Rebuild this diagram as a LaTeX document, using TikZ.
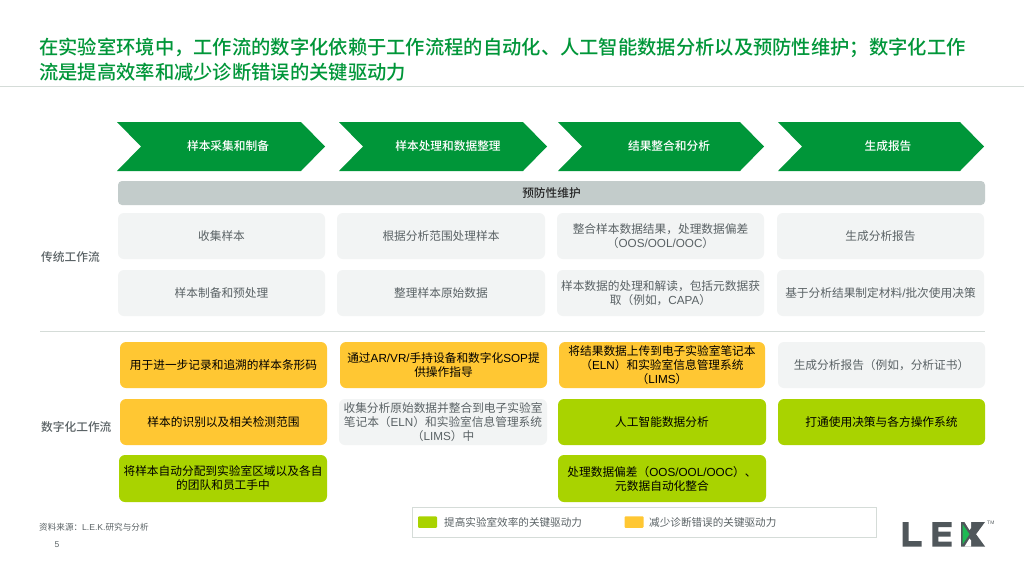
\documentclass[tikz,border=0pt]{standalone}
\usepackage{fontspec}
\setmainfont{Noto Sans CJK SC}
\newfontfamily\medf{Noto Sans CJK SC Medium}
\newfontfamily\latinf{Liberation Sans}
\newcommand{\ltn}[1]{{\latinf #1}}
\definecolor{lekgreen}{HTML}{009639}
\definecolor{lime}{HTML}{A9D300}
\definecolor{amber}{HTML}{FFC733}
\definecolor{pale}{HTML}{F2F4F4}
\definecolor{barg}{HTML}{C3CCCB}
\definecolor{txtg}{HTML}{5A6265}
\definecolor{rulec}{HTML}{D5DCD8}
\definecolor{logog}{HTML}{50575B}
\definecolor{logoa}{HTML}{1DB954}
\tikzset{x=1pt,y=-1pt,
 box/.style={rounded corners=6pt,anchor=center,align=center,font=\fontsize{11.7}{14}\selectfont,inner sep=0pt},
 graybox/.style={box,fill=pale,text=txtg},
 ambox/.style={box,fill=amber,text=black},
 limebox/.style={box,fill=lime,text=black},
 chev/.style={fill=lekgreen,draw=none},
 chevtxt/.style={text=white,font=\fontsize{11.7}{14}\selectfont\medf},
 side/.style={text=txtg,font=\fontsize{11.7}{14}\selectfont\medf,anchor=west,inner sep=0pt},
 rulel/.style={draw=rulec,line width=0.8pt},
 logol/.style={fill=logog,draw=none}}
\newcommand{\bx}[7]{\node[#1,minimum width=#5 pt - #3 pt,minimum height=#6 pt - #4 pt] (#2) at ({(#3+#5)/2},{(#4+#6)/2}) {#7};}
\newcommand{\chv}[5]{\fill[chev] (#2,122) -- (#3-24,122) -- (#3,146.5) -- (#3-24,171) -- (#2,171) -- (#2+24,146.5) -- cycle;
 \node[chevtxt] (#1) at (#4,146.5) {#5};}
\begin{document}
\begin{tikzpicture}
\useasboundingbox (0,0) rectangle (1024,576);
\fill[white] (0,0) rectangle (1024,576);
\node[anchor=north west,inner sep=0pt,text=lekgreen,font=\fontsize{19.3}{25}\selectfont\medf,align=left] (title) at (39,37.5) {在实验室环境中，工作流的数字化依赖于工作流程的自动化、人工智能数据分析以及预防性维护；数字化工作\\流是提高效率和减少诊断错误的关键驱动力};
\coordinate (r1a) at (0,86.5); \coordinate (r1b) at (1024,86.5);
\draw[rulel] (r1a) -- (r1b);
\chv{c1}{117}{325}{228}{样本采集和制备}
\chv{c2}{339}{547}{448}{样本处理和数据整理}
\chv{c3}{558}{764}{669}{结果整合和分析}
\chv{c4}{778}{984}{888}{生成报告}
\bx{box,fill=barg,text=black!85,font=\fontsize{11.7}{14}\selectfont\medf,rounded corners=4pt}{pm}{118}{181}{985}{205}{预防性维护}
\bx{graybox}{a1}{118}{213}{325}{259}{收集样本}
\bx{graybox}{a2}{337}{213}{545}{259}{根据分析范围处理样本}
\bx{graybox}{a3}{557}{213}{764}{259}{整合样本数据结果，处理数据偏差\\（\ltn{OOS/OOL/OOC}）}
\bx{graybox}{a4}{777}{213}{984}{259}{生成分析报告}
\bx{graybox}{b1}{118}{270}{325}{316}{样本制备和预处理}
\bx{graybox}{b2}{337}{270}{545}{316}{整理样本原始数据}
\bx{graybox}{b3}{557}{270}{764}{316}{样本数据的处理和解读，包括元数据获\\取（例如，\ltn{CAPA}）}
\bx{graybox}{b4}{777}{270}{984}{316}{基于分析结果制定材料\ltn{/}批次使用决策}
\node[side] (s1) at (41,257) {传统工作流};
\coordinate (r2a) at (40,331.5); \coordinate (r2b) at (985,331.5);
\draw[rulel] (r2a) -- (r2b);
\node[side] (s2) at (41,427.5) {数字化工作流};
\bx{ambox}{d1}{120}{342}{327}{388}{用于进一步记录和追溯的样本条形码}
\bx{ambox}{d2}{340}{342}{547}{388}{通过\ltn{AR/VR/}手持设备和数字化\ltn{SOP}提\\供操作指导}
\bx{ambox}{d3}{559}{342}{765}{388}{将结果数据上传到电子实验室笔记本\\（\ltn{ELN}）和实验室信息管理系统\\（\ltn{LIMS}）}
\bx{graybox}{d4}{778}{342}{985}{388}{生成分析报告（例如，分析证书）}
\bx{ambox}{e1}{120}{399}{327}{445}{样本的识别以及相关检测范围}
\bx{graybox}{e2}{339}{399}{547}{445}{收集分析原始数据并整合到电子实验室\\笔记本（\ltn{ELN}）和实验室信息管理系统\\（\ltn{LIMS}）中}
\bx{limebox}{e3}{558}{399}{766}{445}{人工智能数据分析}
\bx{limebox}{e4}{778}{399}{985}{445}{打通使用决策与各方操作系统}
\bx{limebox}{f1}{119}{455}{327}{502}{将样本自动分配到实验室区域以及各自\\的团队和员工手中}
\bx{limebox}{f3}{558}{455}{766}{502}{处理数据偏差（\ltn{OOS/OOL/OOC}）、\\元数据自动化整合}
\node[draw=rulec,line width=0.8pt,minimum width=464pt,minimum height=30pt,inner sep=0pt] (leg) at (644.5,522) {};
\node[fill=lime,rounded corners=1pt,minimum width=19pt,minimum height=11.5pt,inner sep=0pt] (k1) at (427.5,522) {};
\node[anchor=west,inner sep=0pt,text=txtg,font=\fontsize{10.6}{12}\selectfont] (k1t) at (444,522) {提高实验室效率的关键驱动力};
\node[fill=amber,rounded corners=1pt,minimum width=19pt,minimum height=11.5pt,inner sep=0pt] (k2) at (634,522) {};
\node[anchor=west,inner sep=0pt,text=txtg,font=\fontsize{10.6}{12}\selectfont] (k2t) at (649,522) {减少诊断错误的关键驱动力};
\node[anchor=west,inner sep=0pt,text=txtg,font=\fontsize{8.6}{10}\selectfont] (src) at (39,527) {资料来源：\ltn{L.E.K.}研究与分析};
\node[inner sep=0pt,text=txtg,font=\fontsize{8.5}{10}\selectfont\latinf] (pg) at (57,545) {5};
% logo
\fill[logol] (902.5,522) -- (908.5,522) -- (908.5,541) -- (921.5,541) -- (921.5,546.5) -- (902.5,546.5) -- cycle;
\fill[logol] (932.3,522) -- (951.7,522) -- (951.7,527) -- (938.3,527) -- (938.3,531.5) -- (950.5,531.5) -- (950.5,536.5) -- (938.3,536.5) -- (938.3,541.5) -- (951.7,541.5) -- (951.7,546.5) -- (932.3,546.5) -- cycle;
\fill[logol] (961,522) -- (973,522) -- (985,522) -- (976,534.2) -- (985,546.5) -- (961,546.5) -- cycle;
\fill[logoa] (962.5,524) -- (969.5,534.2) -- (962.5,544.5) -- cycle;
\fill[white] (964.5,522) -- (971,522) -- (971,528) -- (969.5,530) -- cycle;
\fill[white] (964.5,546.5) -- (971,546.5) -- (971,540.5) -- (969.5,538.5) -- cycle;
\node[anchor=west,inner sep=0pt,text=txtg,font=\fontsize{5}{6}\selectfont\latinf] (tm) at (987,523) {TM};
\end{tikzpicture}
\end{document}
